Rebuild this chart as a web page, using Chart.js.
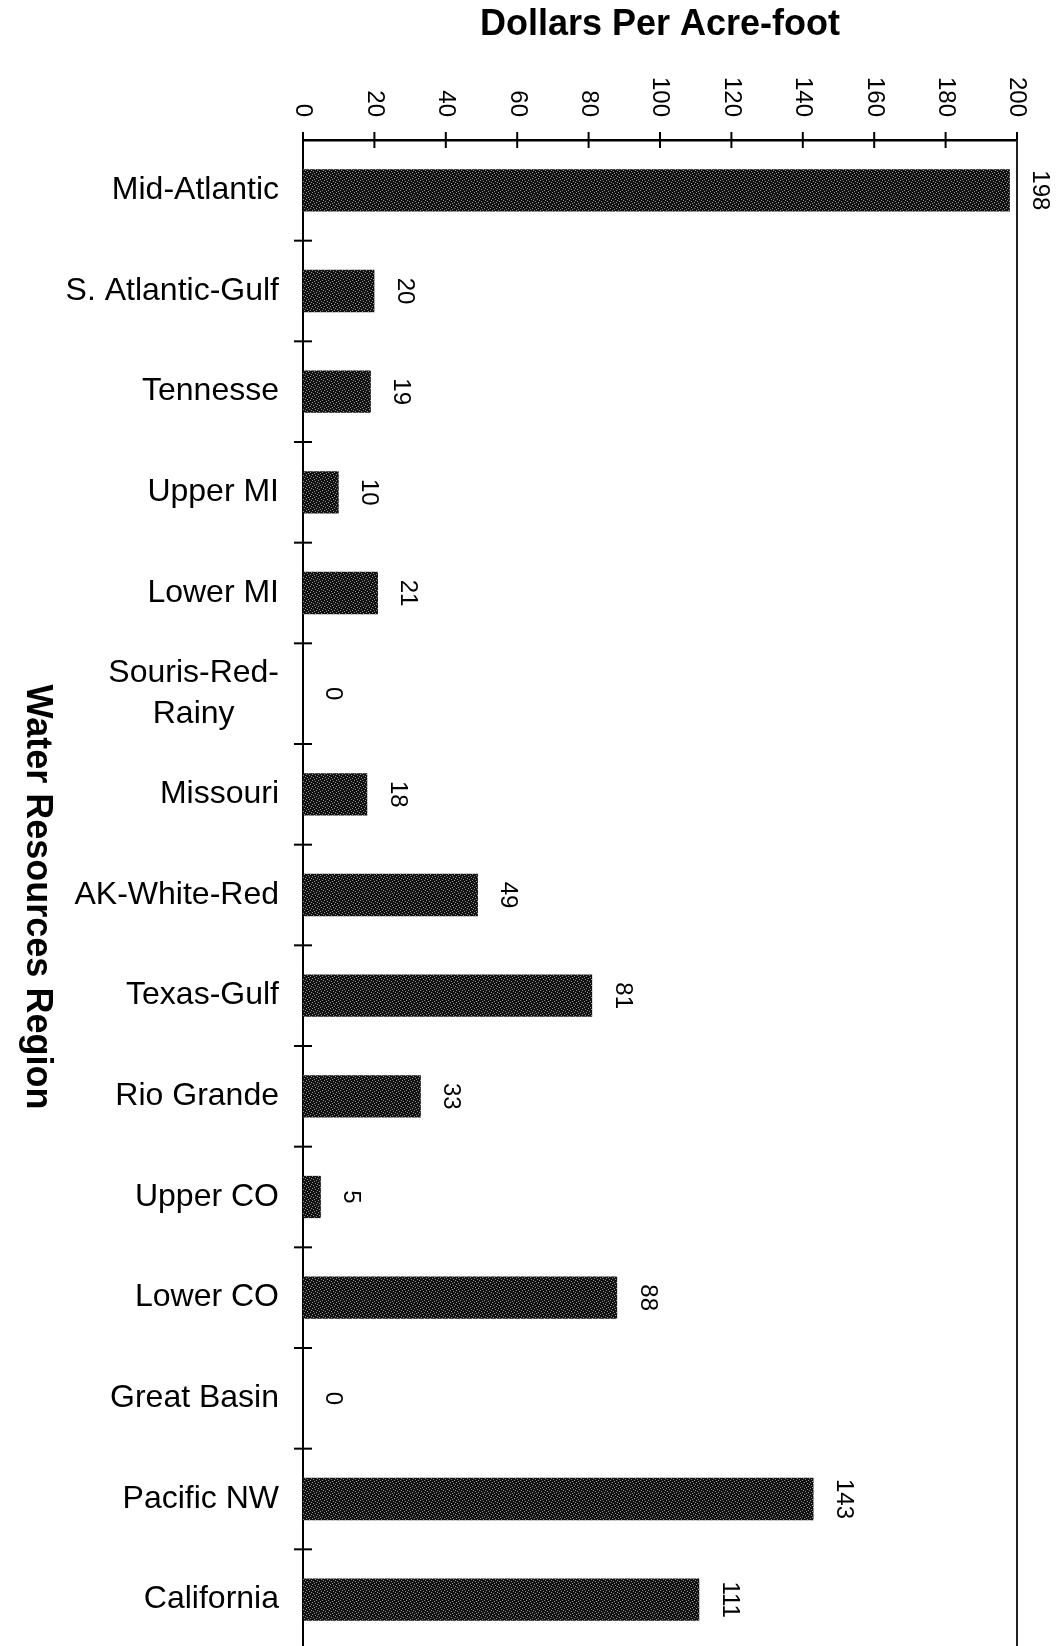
<!DOCTYPE html>
<html>
<head>
<meta charset="utf-8">
<script src="https://cdn.jsdelivr.net/npm/chart.js@4.4.0/dist/chart.umd.min.js"></script>
<style>
  html, body { margin: 0; padding: 0; background: #fff; overflow: hidden; }
  #wrap { width: 1058px; height: 1652px; position: relative; }
</style>
</head>
<body>
<div id="wrap"><canvas id="myChart"></canvas></div>
<script>
const regions = ['Mid-Atlantic', 'S. Atlantic-Gulf', 'Tennesse', 'Upper MI', 'Lower MI',
  ['Souris-Red-', 'Rainy     '], 'Missouri', 'AK-White-Red', 'Texas-Gulf', 'Rio Grande',
  'Upper CO', 'Lower CO', 'Great Basin', 'Pacific NW', 'California'];
const dollarsPerAcreFoot = [198, 20, 19, 10, 21, 0, 18, 49, 81, 33, 5, 88, 0, 143, 111];
const valueTicks = [0, 20, 40, 60, 80, 100, 120, 140, 160, 180, 200];

const FONT = '"Liberation Sans", Arial, Helvetica, sans-serif';

// dark stippled fill like the printed bars
function makeStipple() {
  const c = document.createElement('canvas');
  c.width = 6; c.height = 6;
  const g = c.getContext('2d');
  g.fillStyle = '#121212';
  g.fillRect(0, 0, 6, 6);
  g.fillStyle = '#8a8a8a';
  [[0, 0], [3, 1], [1, 3], [4, 4], [2, 5], [5, 2]].forEach(p => g.fillRect(p[0], p[1], 1, 1));
  return g.createPattern(c, 'repeat');
}

// rotated tick labels, crossing tick marks, frame, value labels, y title
const extras = {
  id: 'extras',
  afterDraw(chart) {
    const ctx = chart.ctx;
    const xs = chart.scales.x, ys = chart.scales.y;
    const area = chart.chartArea;
    ctx.save();
    ctx.fillStyle = '#000';
    ctx.strokeStyle = '#000';

    // value axis ticks and labels
    ctx.lineWidth = 2;
    ctx.font = '24px ' + FONT;
    valueTicks.forEach(v => {
      const px = xs.getPixelForValue(v);
      ctx.beginPath();
      ctx.moveTo(px, area.top - 8);
      ctx.lineTo(px, area.top + 8);
      ctx.stroke();
      ctx.save();
      ctx.translate(px, area.top - 23);
      ctx.rotate(Math.PI / 2);
      ctx.textAlign = 'right';
      ctx.textBaseline = 'middle';
      ctx.fillText(String(v), 0, 0);
      ctx.restore();
    });

    // category separators
    for (let i = 0; i < regions.length - 1; i++) {
      const py = (ys.getPixelForValue(i) + ys.getPixelForValue(i + 1)) / 2;
      ctx.beginPath();
      ctx.moveTo(area.left - 9, py);
      ctx.lineTo(area.left + 9, py);
      ctx.stroke();
    }

    // right and bottom frame
    ctx.lineWidth = 2;
    ctx.strokeStyle = '#222';
    ctx.beginPath();
    ctx.moveTo(area.right, area.top);
    ctx.lineTo(area.right, area.bottom - 1);
    ctx.lineTo(area.left, area.bottom - 1);
    ctx.stroke();

    // value labels
    const meta = chart.getDatasetMeta(0);
    ctx.font = '24px ' + FONT;
    meta.data.forEach((bar, i) => {
      ctx.save();
      ctx.translate(bar.x + 30, bar.y);
      ctx.rotate(Math.PI / 2);
      ctx.textAlign = 'center';
      ctx.textBaseline = 'middle';
      ctx.fillText(String(dollarsPerAcreFoot[i]), 0, 0);
      ctx.restore();
    });

    // category axis title, reading top to bottom
    ctx.save();
    ctx.translate(37, 897);
    ctx.rotate(Math.PI / 2);
    ctx.font = 'bold 36px ' + FONT;
    ctx.textAlign = 'center';
    ctx.textBaseline = 'middle';
    ctx.fillText('Water Resources Region', 0, 0);
    ctx.restore();

    ctx.restore();
  }
};

const ctx = document.getElementById('myChart').getContext('2d');
const myChart = new Chart(ctx, {
  type: 'bar',
  data: {
    labels: regions,
    datasets: [{
      label: 'Dollars Per Acre-foot',
      data: dollarsPerAcreFoot,
      backgroundColor: makeStipple(),
      borderWidth: 0,
      barPercentage: 0.42,
      categoryPercentage: 1.0
    }]
  },
  options: {
    indexAxis: 'y',
    responsive: true,
    maintainAspectRatio: false,
    animation: false,
    layout: { padding: { top: 0, left: 0, right: 41, bottom: 2 } },
    plugins: {
      legend: { display: false },
      tooltip: { enabled: false }
    },
    scales: {
      x: {
        position: 'top',
        min: 0,
        max: 200,
        ticks: { display: false, stepSize: 20 },
        grid: { display: false, drawTicks: false },
        border: { display: true, color: '#000', width: 2.5 },
        title: {
          display: true,
          text: 'Dollars Per Acre-foot',
          color: '#000',
          font: { family: FONT, size: 36, weight: 'bold' },
          padding: { top: 3, bottom: 0 }
        },
        afterFit(scale) {
          scale.height = 140;
          scale.paddingLeft = 0;
          scale.paddingRight = 0;
        }
      },
      y: {
        ticks: {
          color: '#000',
          font: { family: FONT, size: 32, lineHeight: 1.28 },
          padding: 24,
          autoSkip: false
        },
        grid: { display: false, drawTicks: false },
        border: { display: true, color: '#000', width: 2 },
        afterFit(scale) {
          scale.width = 303;
          scale.paddingTop = 0;
          scale.paddingBottom = 0;
        }
      }
    }
  },
  plugins: [extras]
});
</script>
</body>
</html>
